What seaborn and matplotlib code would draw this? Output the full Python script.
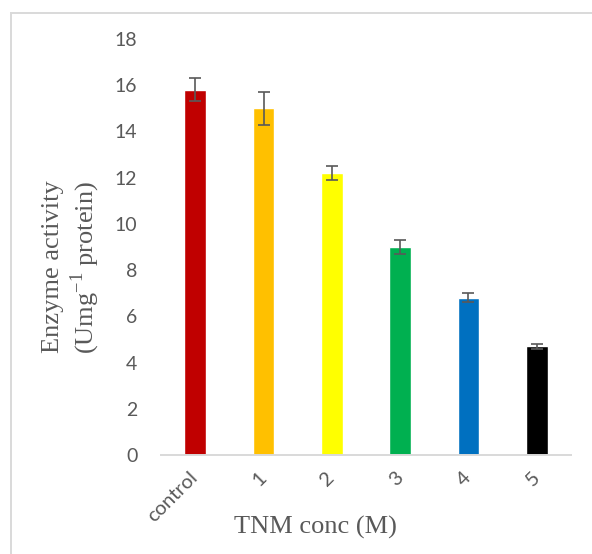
import matplotlib
matplotlib.use("Agg")
from matplotlib import pyplot as plt
from matplotlib.patches import Rectangle
import pandas as pd
import seaborn as sns

# data
conc = ["control", "1", "2", "3", "4", "5"]
activity = [15.8, 15.0, 12.2, 9.0, 6.8, 4.7]
sd = [0.5, 0.7, 0.3, 0.3, 0.2, 0.1]
bar_colors = ["#C00000", "#FFC000", "#FFFF00", "#00B050", "#0070C0", "#000000"]

df = pd.DataFrame({"conc": conc, "activity": activity, "sd": sd})

sns.set_style("white")
plt.rcParams["font.family"] = ["Lato", "DejaVu Sans"]
plt.rcParams["mathtext.fontset"] = "custom"
plt.rcParams["mathtext.rm"] = "Liberation Serif"
grey = "#595959"

fig = plt.figure(figsize=(5.92, 5.54), dpi=100)
ax = fig.add_axes([0.272, 0.1787, 0.6925, 0.7509])

sns.barplot(data=df, x="conc", y="activity", hue="conc",
            palette=bar_colors, width=0.32, saturation=1,
            legend=False, ax=ax)
ax.errorbar(range(len(conc)), df["activity"], yerr=df["sd"],
            fmt="none", ecolor=grey, elinewidth=1.2,
            capsize=4.3, capthick=1.2)

ax.set_ylim(0, 18)
ax.set_yticks(range(0, 19, 2))
ax.set_xlim(-0.5, 5.5)

for s in ["top", "right", "left"]:
    ax.spines[s].set_visible(False)
ax.spines["bottom"].set_color("#d9d9d9")
ax.spines["bottom"].set_linewidth(1.4)

ax.tick_params(axis="y", length=0, pad=17, labelsize=14, labelcolor=grey)
ax.tick_params(axis="x", length=0, pad=14, labelsize=14.5, labelcolor=grey)
for lab in ax.get_xticklabels():
    lab.set_rotation(45)
    lab.set_ha("right")
    lab.set_va("center")
    lab.set_rotation_mode("anchor")

ax.set_xlabel("TNM conc (M)", family="Liberation Serif", fontsize=19,
              color=grey)
ax.xaxis.set_label_coords(0.376, -0.147)
ax.set_ylabel("Enzyme activity\n(Umg$^{\\mathregular{-1}}$ protein)",
              family="Liberation Serif", fontsize=19, color=grey,
              linespacing=1.15)
ax.yaxis.set_label_coords(-0.145, 0.452)

# chart area border (cut off at right and bottom)
fig.patches.append(Rectangle((11 / 592, -0.2), 1.2, 0.2 + 1 - 13 / 554,
                             transform=fig.transFigure, fill=False,
                             edgecolor="#d9d9d9", linewidth=1.4))

fig.savefig("out.png", dpi=100)
